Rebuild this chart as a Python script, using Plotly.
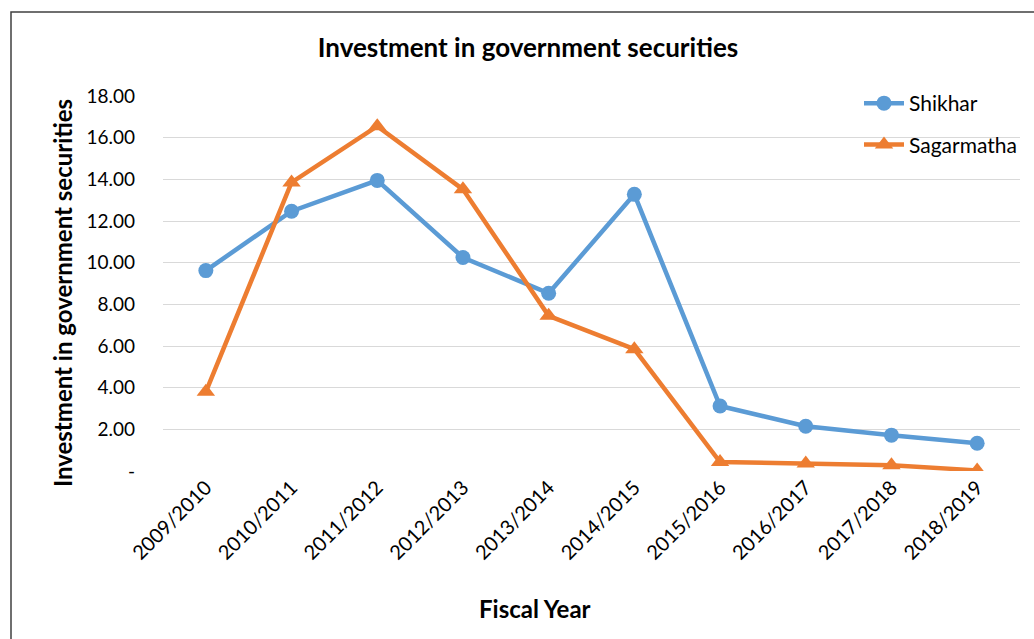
import plotly.graph_objects as go

years = ["2009/2010", "2010/2011", "2011/2012", "2012/2013", "2013/2014",
         "2014/2015", "2015/2016", "2016/2017", "2017/2018", "2018/2019"]
shikhar = [9.62, 12.47, 13.95, 10.25, 8.53, 13.28, 3.12, 2.15, 1.72, 1.33]
sagarmatha = [3.8, 13.85, 16.55, 13.52, 7.45, 5.85, 0.43, 0.36, 0.28, 0.03]
ytick_vals = [0, 2, 4, 6, 8, 10, 12, 14, 16, 18]
ytick_text = ["-", "2.00", "4.00", "6.00", "8.00", "10.00", "12.00", "14.00", "16.00", "18.00"]

FONT = "Lato, 'Open Sans', sans-serif"

fig = go.Figure()
fig.add_trace(go.Scatter(
    x=years, y=shikhar, name="Shikhar", mode="lines+markers", legendgroup="a",
    line=dict(color="#5B9BD5", width=4.5),
    marker=dict(symbol="circle", size=15, color="#5B9BD5"),
))
fig.add_trace(go.Scatter(
    x=years, y=sagarmatha, name="Sagarmatha", mode="lines+markers", legendgroup="b",
    line=dict(color="#ED7D31", width=4.5),
    marker=dict(symbol="triangle-up", size=16, color="#ED7D31"),
))

fig.update_layout(
    width=1034, height=639,
    margin=dict(l=163, r=14, t=96, b=168),
    paper_bgcolor="white", plot_bgcolor="white",
    font=dict(family=FONT, color="#000000", size=19),
    title=dict(text="<b>Investment in government securities</b>",
               x=528/1034, xanchor="center", xref="container",
               y=1-48/639, yanchor="middle", yref="container",
               font=dict(size=26, family=FONT)),
    legend=dict(x=(859-163)/857, y=1+13/375, xanchor="left", yanchor="top",
                font=dict(size=21), bgcolor="rgba(0,0,0,0)",
                tracegroupgap=11, itemwidth=40),
    showlegend=True,
)
fig.update_xaxes(
    type="category", range=[-0.5, 9.5], tickangle=-45, showgrid=False, showline=False,
    ticks="", tickfont=dict(size=20), zeroline=False, automargin=False,
)
fig.update_yaxes(
    range=[0, 18], tickvals=ytick_vals, ticktext=ytick_text,
    showgrid=True, gridcolor="#D9D9D9", gridwidth=1.3,
    zeroline=False, showline=False, ticks="", automargin=False,
    tickfont=dict(size=19), ticklabelstandoff=27,
)

fig.add_annotation(text="<b>Investment in government securities</b>",
                   xref="paper", yref="paper", x=(62-163)/857, y=(471-293)/375,
                   textangle=-90, showarrow=False, font=dict(size=24, family=FONT),
                   xanchor="center", yanchor="middle")
fig.add_annotation(text="<b>Fiscal Year</b>",
                   xref="paper", yref="paper", x=(535-163)/857, y=(471-608)/375,
                   showarrow=False, font=dict(size=24, family=FONT),
                   xanchor="center", yanchor="middle")

fig.add_shape(type="rect", xref="paper", yref="paper",
              x0=(11-163)/857, x1=(1045-163)/857,
              y0=(471-650)/375, y1=(471-12)/375,
              line=dict(color="#404040", width=1.5), fillcolor="rgba(0,0,0,0)",
              layer="below")

fig.write_html("out.html")
